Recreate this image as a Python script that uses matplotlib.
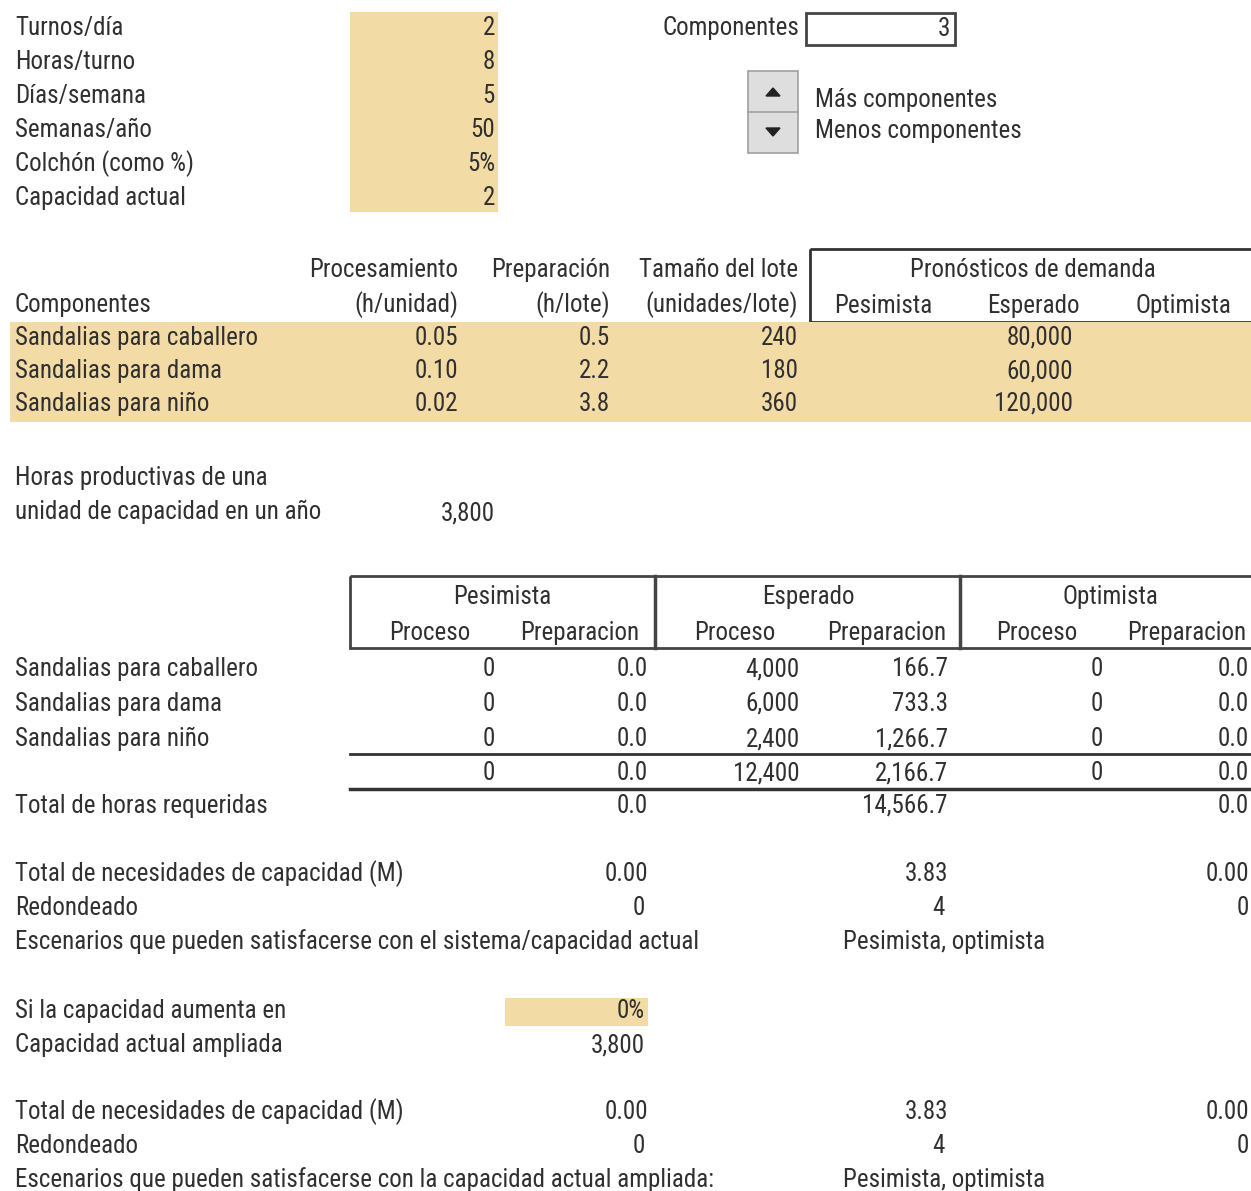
import matplotlib
matplotlib.use("Agg")
import matplotlib.pyplot as plt
from matplotlib.patches import Rectangle, Polygon

plt.rcParams['font.family'] = ['Liberation Sans Narrow', 'Roboto Condensed', 'DejaVu Sans']

TXT = "#303030"
TAN = "#f3dba5"
FS = 18

# parametros de entrada
param_labels = ["Turnos/día", "Horas/turno", "Días/semana", "Semanas/año", "Colchón (como %)", "Capacidad actual"]
param_values = ["2", "8", "5", "50", "5%", "2"]
n_componentes = 3

# tabla de componentes
componentes = ["Sandalias para caballero", "Sandalias para dama", "Sandalias para niño"]
t_proceso = [0.05, 0.10, 0.02]
t_prep = [0.5, 2.2, 3.8]
lote = [240, 180, 360]
dem_esperado = [80000, 60000, 120000]
escenarios = ["Pesimista", "Esperado", "Optimista"]

horas_productivas = 3800

# requerimientos de horas (pesimista, esperado, optimista)
proc_pes = [0, 0, 0]
prep_pes = [0.0, 0.0, 0.0]
proc_esp = [4000, 6000, 2400]
prep_esp = [166.7, 733.3, 1266.7]
proc_opt = [0, 0, 0]
prep_opt = [0.0, 0.0, 0.0]
sum_proc = [0, 12400, 0]
sum_prep = [0.0, 2166.7, 0.0]
total_horas = [0.0, 14566.7, 0.0]
nec_cap = [0.00, 3.83, 0.00]
redondeado = [0, 4, 0]
aumento = "0%"
cap_ampliada = 3800
nec_cap2 = [0.00, 3.83, 0.00]
redondeado2 = [0, 4, 0]
satisfechos = "Pesimista, optimista"

fig = plt.figure(figsize=(12.51, 11.91), dpi=100)
ax = fig.add_axes([0, 0, 1, 1])
ax.set_xlim(0, 1251)
ax.set_ylim(1191, 0)
ax.axis("off")


def t(x, y, s, ha="left"):
    ax.text(x, y, s, ha=ha, va="center", fontsize=FS, color=TXT, clip_on=False)


# bloque superior
ax.add_patch(Rectangle((350, 12), 148, 200, color=TAN, lw=0))
for i, (lab, val) in enumerate(zip(param_labels, param_values)):
    y = 28 + 34 * i
    t(15, y, lab)
    t(495, y, val, "right")

t(663, 28, "Componentes")
ax.add_patch(Rectangle((806, 13), 149, 32, fill=False, ec="#444444", lw=2))
t(950, 29, str(n_componentes), "right")

ax.add_patch(Rectangle((748, 71), 50, 82, fc="#dedede", ec="#a0a0a0", lw=1.2))
ax.plot([748, 798], [112, 112], color="#a0a0a0", lw=1.2)
ax.add_patch(Polygon([[766, 96], [780, 96], [773, 88]], color="#222222"))
ax.add_patch(Polygon([[766, 128], [780, 128], [773, 136]], color="#222222"))
t(815, 100, "Más componentes")
t(815, 131, "Menos componentes")

# tabla de componentes
t(458, 270, "Procesamiento", "right")
t(610, 270, "Preparación", "right")
t(798, 270, "Tamaño del lote", "right")
t(15, 305, "Componentes")
t(458, 305, "(h/unidad)", "right")
t(610, 305, "(h/lote)", "right")
t(798, 305, "(unidades/lote)", "right")
ax.add_patch(Rectangle((810, 249), 460, 73, fill=False, ec="#333333", lw=2))
t(1033, 270, "Pronósticos de demanda", "center")
for x, s in zip([883, 1033, 1183], escenarios):
    t(x, 306, s, "center")

ax.add_patch(Rectangle((10, 322), 1250, 100, color=TAN, lw=0))
for i in range(3):
    y = 338 + 33 * i
    t(15, y, componentes[i])
    t(458, y, f"{t_proceso[i]:.2f}", "right")
    t(610, y, f"{t_prep[i]:.1f}", "right")
    t(798, y, f"{lote[i]}", "right")
    t(1073, y, f"{dem_esperado[i]:,}", "right")

t(15, 478, "Horas productivas de una")
t(15, 512, "unidad de capacidad en un año")
t(495, 514, f"{horas_productivas:,}", "right")

# tabla de requerimientos
ax.add_patch(Rectangle((350, 576), 920, 72, fill=False, ec="#444444", lw=2))
for x in [655, 960]:
    ax.plot([x, x], [576, 648], color="#444444", lw=2.5)
for x, s in zip([502, 808, 1110], escenarios):
    t(x, 597, s, "center")
for x in [430, 735, 1037]:
    t(x, 633, "Proceso", "center")
for x in [580, 887, 1187]:
    t(x, 633, "Preparacion", "center")

cols_x = [495, 648, 800, 948, 1103, 1249]
for i in range(3):
    y = 669 + 35 * i
    t(15, y, componentes[i])
    vals = [proc_pes[i], prep_pes[i], proc_esp[i], prep_esp[i], proc_opt[i], prep_opt[i]]
    for j, (x, v) in enumerate(zip(cols_x, vals)):
        s = f"{v:,}" if j % 2 == 0 else f"{v:,.1f}"
        t(x, y, s, "right")

ax.plot([350, 1251], [754, 754], color="#333333", lw=2)
for j in range(3):
    t(cols_x[2 * j], 773, f"{sum_proc[j]:,}", "right")
    t(cols_x[2 * j + 1], 773, f"{sum_prep[j]:,.1f}", "right")
ax.plot([350, 1251], [789, 789], color="#333333", lw=2.5)

t(15, 806, "Total de horas requeridas")
for x, v in zip([648, 948, 1249], total_horas):
    t(x, 806, f"{v:,.1f}", "right")

xs3 = [648, 948, 1249]
t(15, 874, "Total de necesidades de capacidad (M)")
for x, v in zip(xs3, nec_cap):
    t(x, 874, f"{v:.2f}", "right")
t(15, 908, "Redondeado")
for x, v in zip([645, 945, 1249], redondeado):
    t(x, 908, f"{v}", "right")
t(15, 942, "Escenarios que pueden satisfacerse con el sistema/capacidad actual")
t(843, 942, satisfechos)

ax.add_patch(Rectangle((505, 998), 143, 28, color=TAN, lw=0))
t(15, 1011, "Si la capacidad aumenta en")
t(645, 1011, aumento, "right")
t(15, 1045, "Capacidad actual ampliada")
t(645, 1045, f"{cap_ampliada:,}", "right")

t(15, 1112, "Total de necesidades de capacidad (M)")
for x, v in zip(xs3, nec_cap2):
    t(x, 1112, f"{v:.2f}", "right")
t(15, 1146, "Redondeado")
for x, v in zip([645, 945, 1249], redondeado2):
    t(x, 1146, f"{v}", "right")
t(15, 1180, "Escenarios que pueden satisfacerse con la capacidad actual ampliada:")
t(843, 1180, satisfechos)

fig.savefig("out.png", dpi=100)
